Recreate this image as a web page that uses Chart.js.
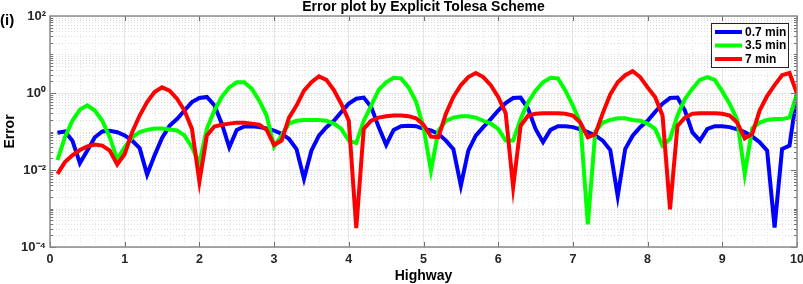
<!DOCTYPE html>
<html>
<head>
<meta charset="utf-8">
<script src="https://cdn.jsdelivr.net/npm/chart.js@4.4.0/dist/chart.umd.min.js"></script>
<style>
html, body { margin: 0; padding: 0; background: #fff; }
canvas { display: block; }
</style>
</head>
<body>
<canvas id="errorChart" width="803" height="284"></canvas>
<script>
// sample positions along the highway
const xs = [0.1, 0.2, 0.3, 0.4, 0.5, 0.6, 0.7, 0.8, 0.9, 1.0,
  1.1, 1.2, 1.3, 1.4, 1.5, 1.6, 1.7, 1.8, 1.9, 2.0,
  2.1, 2.2, 2.3, 2.4, 2.5, 2.6, 2.7, 2.8, 2.9, 3.0,
  3.1, 3.2, 3.3, 3.4, 3.5, 3.6, 3.7, 3.8, 3.9, 4.0,
  4.1, 4.2, 4.3, 4.4, 4.5, 4.6, 4.7, 4.8, 4.9, 5.0,
  5.1, 5.2, 5.3, 5.4, 5.5, 5.6, 5.7, 5.8, 5.9, 6.0,
  6.1, 6.2, 6.3, 6.4, 6.5, 6.6, 6.7, 6.8, 6.9, 7.0,
  7.1, 7.2, 7.3, 7.4, 7.5, 7.6, 7.7, 7.8, 7.9, 8.0,
  8.1, 8.2, 8.3, 8.4, 8.5, 8.6, 8.7, 8.8, 8.9, 9.0,
  9.1, 9.2, 9.3, 9.4, 9.5, 9.6, 9.7, 9.8, 9.9, 10.0];

// 0.7 min
const err07 = [0.093, 0.10, 0.058, 0.015, 0.032, 0.071, 0.10, 0.105, 0.096, 0.079,
  0.058, 0.037, 0.0076, 0.024, 0.068, 0.14, 0.21, 0.35, 0.58, 0.74,
  0.79, 0.48, 0.16, 0.039, 0.11, 0.135, 0.137, 0.13, 0.12, 0.106,
  0.087, 0.064, 0.035, 0.0059, 0.032, 0.078, 0.13, 0.19, 0.32, 0.53,
  0.71, 0.76, 0.43, 0.13, 0.045, 0.11, 0.137, 0.14, 0.137, 0.117,
  0.106, 0.087, 0.058, 0.035, 0.0039, 0.032, 0.078, 0.13, 0.21, 0.35,
  0.55, 0.74, 0.76, 0.39, 0.117, 0.053, 0.11, 0.137, 0.137, 0.13,
  0.113, 0.096, 0.079, 0.058, 0.033, 0.0021, 0.035, 0.078, 0.13, 0.19,
  0.32, 0.53, 0.74, 0.76, 0.35, 0.095, 0.058, 0.117, 0.137, 0.137,
  0.13, 0.113, 0.096, 0.074, 0.053, 0.032, 0.00032, 0.035, 0.043, 0.96];

// 3.5 min
const err35 = [0.018, 0.071, 0.19, 0.37, 0.48, 0.35, 0.19, 0.071, 0.019, 0.039,
  0.071, 0.096, 0.11, 0.12, 0.12, 0.113, 0.106, 0.079, 0.039, 0.015,
  0.117, 0.35, 0.79, 1.4, 1.9, 1.9, 1.3, 0.64, 0.26, 0.04,
  0.079, 0.16, 0.19, 0.2, 0.2, 0.2, 0.19, 0.16, 0.117, 0.058,
  0.05, 0.19, 0.47, 1.2, 1.9, 2.5, 2.4, 1.4, 0.6, 0.13,
  0.0096, 0.106, 0.19, 0.23, 0.25, 0.25, 0.23, 0.19, 0.16, 0.117,
  0.058, 0.058, 0.21, 0.58, 1.15, 1.9, 2.5, 2.4, 1.15, 0.47,
  0.17, 0.00039, 0.1, 0.17, 0.2, 0.22, 0.22, 0.2, 0.19, 0.16,
  0.117, 0.043, 0.064, 0.26, 0.7, 1.3, 2.2, 2.6, 2.2, 1.1,
  0.52, 0.2, 0.0078, 0.12, 0.17, 0.2, 0.21, 0.21, 0.23, 0.96];

// 7 min
const err7 = [0.0079, 0.016, 0.024, 0.033, 0.041, 0.046, 0.043, 0.032, 0.014, 0.026,
  0.096, 0.26, 0.58, 1.06, 1.4, 1.15, 0.71, 0.35, 0.117, 0.005,
  0.079, 0.135, 0.15, 0.16, 0.17, 0.17, 0.16, 0.15, 0.11, 0.045,
  0.058, 0.23, 0.47, 1.15, 1.9, 2.7, 2.2, 1.2, 0.52, 0.19,
  0.00031, 0.117, 0.19, 0.23, 0.25, 0.26, 0.26, 0.25, 0.22, 0.15,
  0.074, 0.071, 0.29, 0.79, 1.6, 2.6, 3.3, 2.6, 1.6, 0.79,
  0.3, 0.0036, 0.14, 0.26, 0.29, 0.3, 0.3, 0.3, 0.29, 0.26,
  0.17, 0.071, 0.085, 0.3, 0.92, 1.9, 2.9, 3.7, 2.6, 1.4,
  0.79, 0.26, 0.00095, 0.14, 0.23, 0.29, 0.3, 0.3, 0.3, 0.29,
  0.26, 0.17, 0.066, 0.086, 0.35, 0.83, 1.6, 2.9, 3.3, 0.96];

const seriesNames = ['0.7 min', '3.5 min', '7 min'];
const seriesColors = ['#0000ff', '#00ff00', '#ff0000'];
const xTickValues = [0, 1, 2, 3, 4, 5, 6, 7, 8, 9, 10];
const yTickValues = [1e-4, 1e-2, 1, 1e2];
const yTickLabels = ['10\u207B\u2074', '10\u207B\u00B2', '10\u2070', '10\u00B2'];

const FONT = '"Liberation Sans", Arial, Helvetica, sans-serif';

function toPoints(arr) {
  return xs.map((x, i) => ({ x: x, y: arr[i] }));
}

// MATLAB-like frame: dotted minor grid, box, inward ticks, legend, titles
const matlabFrame = {
  id: 'matlabFrame',
  beforeDatasetsDraw(chart) {
    const { ctx, chartArea: a, scales } = chart;
    const xS = scales.x, yS = scales.y;
    ctx.save();
    ctx.strokeStyle = '#dcdcdc';
    ctx.lineWidth = 1;
    ctx.setLineDash([1, 2]);
    for (let k = -4; k < 2; k++) {
      for (let m = 1; m < 10; m++) {
        const v = m * Math.pow(10, k);
        if (m === 1 && k % 2 === 0) continue;
        const py = Math.round(yS.getPixelForValue(v)) + 0.5;
        ctx.beginPath(); ctx.moveTo(a.left, py); ctx.lineTo(a.right, py); ctx.stroke();
      }
    }
    ctx.strokeStyle = '#e4e4e4';
    for (let i = 1; i < 50; i++) {
      if (i % 5 === 0) continue;
      const px = Math.round(xS.getPixelForValue(i * 0.2)) + 0.5;
      ctx.beginPath(); ctx.moveTo(px, a.top); ctx.lineTo(px, a.bottom); ctx.stroke();
    }
    ctx.restore();
  },
  afterDatasetsDraw(chart) {
    const { ctx, chartArea: a, scales } = chart;
    const xS = scales.x, yS = scales.y;
    ctx.save();
    // inward ticks
    ctx.strokeStyle = '#6e6e6e';
    ctx.lineWidth = 1;
    xTickValues.forEach(v => {
      const px = Math.round(xS.getPixelForValue(v)) + 0.5;
      ctx.beginPath();
      ctx.moveTo(px, a.bottom); ctx.lineTo(px, a.bottom - 5);
      ctx.moveTo(px, a.top); ctx.lineTo(px, a.top + 5);
      ctx.stroke();
    });
    for (let k = -4; k < 2; k++) {
      for (let m = 1; m < 10; m++) {
        const v = m * Math.pow(10, k);
        const len = (m === 1 && k % 2 === 0) ? 6 : 3;
        const py = Math.round(yS.getPixelForValue(v)) + 0.5;
        ctx.beginPath();
        ctx.moveTo(a.left, py); ctx.lineTo(a.left + len, py);
        ctx.moveTo(a.right, py); ctx.lineTo(a.right - len, py);
        ctx.stroke();
      }
    }
    // box
    ctx.strokeStyle = '#8a8a8a';
    ctx.lineWidth = 1.5;
    ctx.strokeRect(a.left, a.top, a.right - a.left, a.bottom - a.top);

    // legend
    const lx = 711, ly = 23, lw = 77, lh = 44;
    ctx.fillStyle = '#ffffff';
    ctx.fillRect(lx, ly, lw, lh);
    ctx.strokeStyle = '#262626';
    ctx.lineWidth = 1;
    ctx.strokeRect(lx + 0.5, ly + 0.5, lw, lh);
    ctx.font = 'bold 12px ' + FONT;
    ctx.textBaseline = 'middle';
    ctx.textAlign = 'left';
    seriesNames.forEach((name, i) => {
      const yy = ly + 9 + i * 13.5;
      ctx.strokeStyle = seriesColors[i];
      ctx.lineWidth = 4;
      ctx.beginPath(); ctx.moveTo(lx + 4, yy); ctx.lineTo(lx + 31, yy); ctx.stroke();
      ctx.fillStyle = '#000';
      ctx.fillText(name, lx + 34, yy + 0.5);
    });

    // titles
    ctx.fillStyle = '#000';
    ctx.textAlign = 'center';
    ctx.font = 'bold 14px ' + FONT;
    ctx.fillText('Error plot by Explicit Tolesa Scheme', (a.left + a.right) / 2, 7.5);
    ctx.font = 'bold 14px ' + FONT;
    ctx.fillText('Highway', (a.left + a.right) / 2, 276);
    ctx.textAlign = 'left';
    ctx.font = 'bold 15px ' + FONT;
    ctx.fillText('(i)', 0, 21);
    ctx.translate(10, (a.top + a.bottom) / 2);
    ctx.rotate(-Math.PI / 2);
    ctx.textAlign = 'center';
    ctx.font = 'bold 14px ' + FONT;
    ctx.fillText('Error', 0, 0);
    ctx.restore();
  }
};

const errorData = {
  datasets: [err07, err35, err7].map((arr, i) => ({
    label: seriesNames[i],
    data: toPoints(arr),
    borderColor: seriesColors[i],
    backgroundColor: seriesColors[i],
    borderWidth: 4,
    pointRadius: 0,
    tension: 0,
    order: 2 - i
  }))
};

const errorConfig = {
  type: 'line',
  data: errorData,
  options: {
    responsive: false,
    animation: false,
    devicePixelRatio: 1,
    layout: { autoPadding: false, padding: { top: 16, right: 6, bottom: 0, left: 0 } },
    plugins: { legend: { display: false }, tooltip: { enabled: false }, title: { display: false } },
    scales: {
      x: {
        type: 'linear',
        min: 0,
        max: 10,
        afterBuildTicks: s => { s.ticks = xTickValues.map(v => ({ value: v })); },
        afterFit: s => { s.height = 37; s.paddingLeft = 0; s.paddingRight = 0; },
        ticks: { font: { family: FONT, size: 12.5, weight: 'bold' }, color: '#262626', padding: 5, maxRotation: 0, autoSkip: false,
          callback: v => String(v) },
        grid: { color: '#e6e6e6', drawTicks: false, lineWidth: 1 },
        border: { display: false }
      },
      y: {
        type: 'logarithmic',
        min: 1e-4,
        max: 1e2,
        afterBuildTicks: s => { s.ticks = yTickValues.map(v => ({ value: v })); },
        afterFit: s => { s.width = 50; s.paddingTop = 0; s.paddingBottom = 0; },
        ticks: { font: { family: FONT, size: 13, weight: 'bold' }, color: '#262626', padding: 4, autoSkip: false,
          callback: (v, i) => yTickLabels[yTickValues.indexOf(v)] !== undefined ? yTickLabels[yTickValues.indexOf(v)] : yTickLabels[i] },
        grid: { color: '#e6e6e6', drawTicks: false, lineWidth: 1 },
        border: { display: false }
      }
    }
  },
  plugins: [matlabFrame]
};

const errorChart = new Chart(document.getElementById('errorChart'), errorConfig);
</script>
</body>
</html>
